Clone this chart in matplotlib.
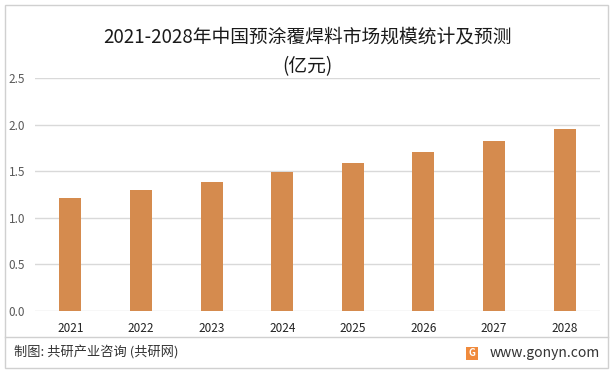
import matplotlib.pyplot as plt
from matplotlib.patches import Rectangle, FancyBboxPatch
from matplotlib.lines import Line2D

plt.rcParams['font.family'] = ['Noto Sans CJK SC', 'DejaVu Sans']

# data
years = ['2021', '2022', '2023', '2024', '2025', '2026', '2027', '2028']
values = [1.21, 1.30, 1.38, 1.49, 1.59, 1.71, 1.82, 1.95]
yticks = [0.0, 0.5, 1.0, 1.5, 2.0, 2.5]
title_1 = '2021-2028年中国预涂覆焊料市场规模统计及预测'
title_2 = '(亿元)'
source = '制图: 共研产业咨询 (共研网)'
site = 'www.gonyn.com'

W, H = 614, 373
fig = plt.figure(figsize=(W / 100, H / 100), dpi=100)

# plot area in pixels: left 35, right 600, top 78 (2.5), bottom 311 (0.0)
ax = fig.add_axes([35 / W, 1 - 311 / H, (600 - 35) / W, (311 - 78) / H])
x = range(len(years))
ax.bar(x, values, width=0.31, color='#D58B4E', zorder=3)
ax.set_xlim(-0.5, len(years) - 0.5)
ax.set_ylim(0, 2.5)
ax.set_yticks(yticks)
ax.set_yticklabels([f'{v:.1f}' for v in yticks], fontsize=8.5, color='#595959')
ax.set_xticks(list(x))
ax.set_xticklabels(years, fontsize=8.5, color='#222222')
ax.tick_params(length=0, pad=8)
ax.tick_params(axis='y', pad=7)
ax.grid(axis='y', color='#D9D9D9', linewidth=1, zorder=0)
for s in ax.spines.values():
    s.set_visible(False)

# title
fig.text(307 / W, 1 - 37 / H, title_1, ha='center', va='center',
         fontsize=13.5, color='#1a1a1a', fontweight='light')
fig.text(307 / W, 1 - 67 / H, title_2, ha='center', va='center',
         fontsize=13.5, color='#1a1a1a', fontweight='light')

# outer frame and footer separator
fig.add_artist(Rectangle((5 / W, 1 - 368 / H), 603 / W, 363 / H,
                         transform=fig.transFigure, fill=False,
                         edgecolor='#D0D0D0', linewidth=1))
fig.add_artist(Line2D([5 / W, 608 / W], [1 - 337 / H, 1 - 337 / H],
                      transform=fig.transFigure, color='#D0D0D0', linewidth=1))

fig.text(14 / W, 1 - 353 / H, source, ha='left', va='center', fontsize=9.5,
         color='#333333')
fig.add_artist(FancyBboxPatch((466 / W, 1 - 360 / H), 12 / W, 13 / H,
                              boxstyle='round,pad=0', transform=fig.transFigure,
                              facecolor='#F08A3C', edgecolor='none'))
fig.text(472 / W, 1 - 353.5 / H, 'G', ha='center', va='center', fontsize=7,
         color='white', fontweight='bold')
fig.text(600 / W, 1 - 353 / H, site, ha='right', va='center', fontsize=10,
         color='#333333')

fig.savefig('out.png', dpi=100)
